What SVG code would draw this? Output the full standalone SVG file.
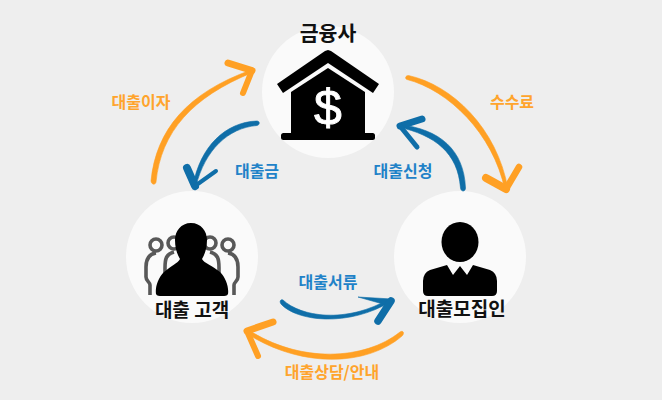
<svg xmlns="http://www.w3.org/2000/svg" width="662" height="400" viewBox="0 0 662 400">
<style>
text{font-family:"Noto Sans CJK KR","Noto Sans",sans-serif;font-weight:700;text-anchor:middle}
.t{font-size:19px;fill:#111}
.o{font-size:16px;fill:#FFA42C}
.b{font-size:16px;fill:#1F82C8}
.c{fill:#fafafa}
.of{fill:#FFA024;stroke:#FFA024;stroke-width:.6;stroke-linejoin:round}
.bf{fill:#0F6EA8;stroke:#0F6EA8;stroke-width:.6;stroke-linejoin:round}
.oh{fill:none;stroke:#FFA024;stroke-linecap:round;stroke-linejoin:round}
.bh{fill:none;stroke:#0F6EA8;stroke-linecap:round;stroke-linejoin:round}
.g{fill:none;stroke:#585858;stroke-width:3.600}
</style>
<rect width="662" height="400" fill="#eeeeee"/>
<g id="node-bank">
<circle class="c" cx="328" cy="92" r="66"/>
<path d="M328 50L331 51L379 84L373 93L328 63L283 93L277 84L325 51Z" fill="#000"/>
<path d="M328 68L365 92V133H291V92Z" fill="#000"/>
<rect x="281" y="133" width="94" height="7" rx="2.500" fill="#000"/>
<text x="328" y="125" style="font-family:'Liberation Sans',sans-serif;font-size:50px;font-weight:400;fill:#fff;stroke:#fff;stroke-width:.9">$</text>
<text x="328" y="41" style="font-size:20.500px;fill:#111">금융사</text>
</g>
<g id="node-customer">
<circle class="c" cx="192" cy="257" r="66"/>
<circle class="g" cx="156" cy="245" r="6"/><circle class="g" cx="228" cy="245" r="6"/>
<circle class="g" cx="174" cy="243" r="6"/><circle class="g" cx="210" cy="243" r="6"/>
<path class="g" d="M156 253C149 254 146 259 146 267V277C146 281 150 282 150 285V295"/>
<path class="g" d="M228 253C235 254 238 259 238 267V277C238 281 234 282 234 285V295"/>
<path class="g" d="M174 252C166 254 165 259 165 268V275"/>
<path class="g" d="M210 252C218 254 219 259 219 268V275"/>
<path d="M191 223C201 223 207 231 207 240C207 248 205 254 202 259C204 263 213 266 220 272C226 278 229 287 228 294C227 296 225 296 222 296H162C159 296 157 296 156 294C155 287 158 278 164 272C171 266 178 263 180 259C177 254 175 248 175 240C175 231 181 223 191 223Z" fill="#000"/>
<text class="t" x="192" y="317">대출 고객</text>
</g>
<g id="node-agent">
<circle class="c" cx="460" cy="257" r="66"/>
<ellipse cx="460" cy="242" rx="18.500" ry="20" fill="#000"/>
<path d="M423 281Q423 273 430 270L447 265L453 275L460 266L467 275L473 265L490 270Q497 273 497 281V291Q497 296 492 296H428Q423 296 423 291Z" fill="#000"/>
<text class="t" x="462" y="316">대출모집인</text>
</g>
<g id="connectors">
<path class="of" d="M151 181C156 130 187 93 251 70L252.500 72.500C192 97 161 132 156 182C155.500 185 151.500 185 151 181Z"/>
<path class="oh" stroke-width="7" d="M228 63L252 70.500"/>
<path class="oh" stroke-width="6" d="M252 70.500L243 93"/>
<path class="bf" d="M257 121C226 122 200 146 193 186L196 186C205 150 228 128 257 125.500C260 125 260 121 257 121Z"/>
<path class="bh" stroke-width="8" d="M187 168L195 186"/>
<path class="bh" stroke-width="4" d="M195 186L216 171"/>
<path class="of" d="M408.500 75.500C452 85 497 128 508 189L505 190C493 133 448 90 407 79.500C405 79 405 75.500 408.500 75.500Z"/>
<path class="oh" stroke-width="8" d="M486 178L506 189"/>
<path class="oh" stroke-width="6.500" d="M506 189L519 167"/>
<path class="bf" d="M465.500 188C464 150 440 129 399 124.500L398 127C435 135 458 153 460.500 188C461 192 465.500 192 465.500 188Z"/>
<path class="bh" stroke-width="7" d="M422 119L400 126"/>
<path class="bh" stroke-width="5" d="M400 126L417 147"/>
<path class="bf" d="M283 300C300 316 345 325 391 298L392 301C348 328 296 321 281 304C279 301 281 299 283 300Z"/>
<path class="bf" d="M358 297L392 299L390 306Z"/>
<path class="bh" stroke-width="7.500" d="M391 301L378 321"/>
<path class="of" d="M400 332C365 360 300 364 247 329L246 333C300 368 366 367 402 336C405 333 403 330 400 332Z"/>
<path class="oh" stroke-width="7" d="M273 322L247 331"/>
<path class="oh" stroke-width="6" d="M247 331L258 356"/>
</g>
<g id="labels">
<text class="o" x="141" y="108">대출이자</text>
<text class="b" x="257" y="177">대출금</text>
<text class="o" x="512" y="108">수수료</text>
<text class="b" x="403" y="177">대출신청</text>
<text class="b" x="328" y="288">대출서류</text>
<text class="o" x="332" y="378">대출상담/안내</text>
</g>
</svg>
